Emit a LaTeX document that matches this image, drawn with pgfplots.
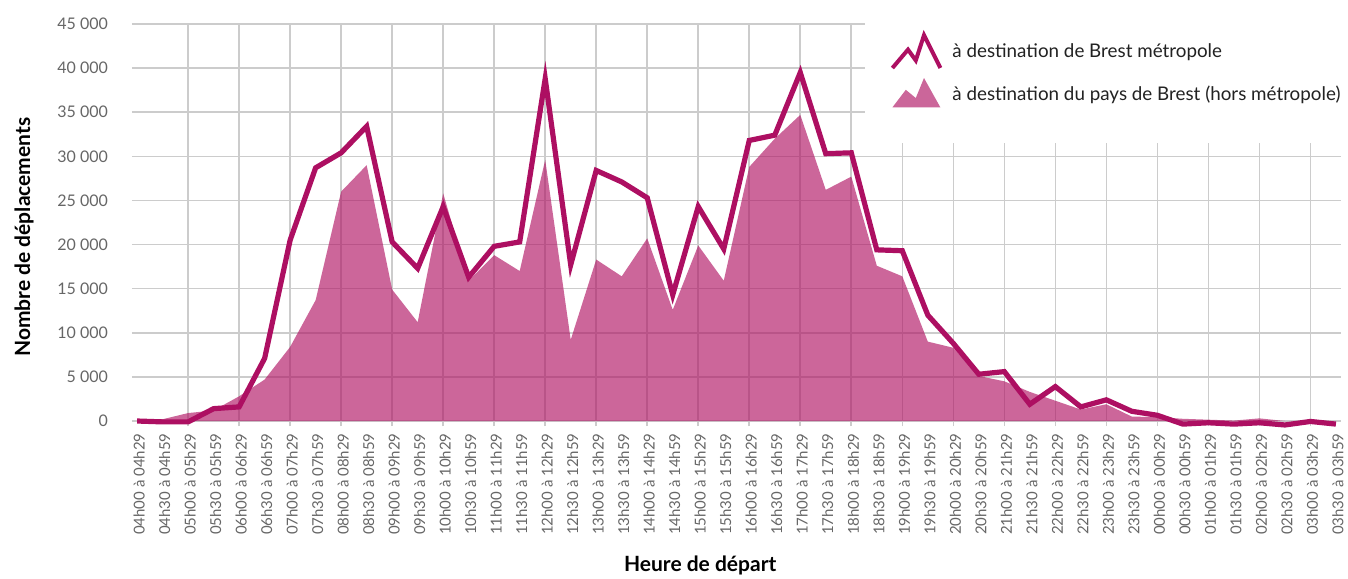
\documentclass[border=0pt]{standalone}
\usepackage{fontspec}
\setmainfont{Lato}
\usepackage{pgfplots}
\pgfplotsset{compat=1.18}
\definecolor{linec}{HTML}{AD0F62}
\definecolor{areac}{HTML}{B01464}
\definecolor{gridc}{HTML}{CCCCCC}
\definecolor{tickc}{HTML}{666666}
\definecolor{legc}{HTML}{222222}

\pgfplotstableread{
x y
0 0
1 -100
2 -100
3 1400
4 1600
5 7100
6 20500
7 28700
8 30400
9 33400
10 20300
11 17300
12 24300
13 16300
14 19800
15 20300
16 38800
17 17700
18 28400
19 27100
20 25300
21 14300
22 24300
23 19500
24 31800
25 32400
26 39500
27 30300
28 30400
29 19400
30 19300
31 12000
32 8800
33 5300
34 5600
35 1900
36 3900
37 1600
38 2400
39 1100
40 650
41 -350
42 -200
43 -350
44 -200
45 -450
46 -50
47 -350
}\metro

\pgfplotstableread{
x y
0 200
1 200
2 900
3 1200
4 2800
5 4700
6 8400
7 13700
8 26000
9 29000
10 14900
11 11200
12 25800
13 15900
14 18800
15 17000
16 29600
17 9200
18 18300
19 16400
20 20700
21 12600
22 19900
23 15900
24 28800
25 32000
26 34700
27 26200
28 27700
29 17600
30 16400
31 9000
32 8300
33 5100
34 4500
35 3300
36 2300
37 1300
38 1900
39 500
40 450
41 250
42 150
43 50
44 300
45 0
46 0
47 0
}\pays

\begin{document}
\begin{tikzpicture}
\begin{axis}[
  at={(0,0)}, anchor=south west,
  scale only axis, width=604.5pt, height=201.15pt,
  xmin=-0.2, xmax=47.2, ymin=-600, ymax=45000,
  clip=false,
  scaled y ticks=false,
  axis line style={draw=none},
  tick style={draw=none},
  major tick length=0pt,
  xtick={0,...,47},
  xticklabels={04h00 à 04h29,04h30 à 04h59,05h00 à 05h29,05h30 à 05h59,06h00 à 06h29,06h30 à 06h59,07h00 à 07h29,07h30 à 07h59,08h00 à 08h29,08h30 à 08h59,09h00 à 09h29,09h30 à 09h59,10h00 à 10h29,10h30 à 10h59,11h00 à 11h29,11h30 à 11h59,12h00 à 12h29,12h30 à 12h59,13h00 à 13h29,13h30 à 13h59,14h00 à 14h29,14h30 à 14h59,15h00 à 15h29,15h30 à 15h59,16h00 à 16h29,16h30 à 16h59,17h00 à 17h29,17h30 à 17h59,18h00 à 18h29,18h30 à 18h59,19h00 à 19h29,19h30 à 19h59,20h00 à 20h29,20h30 à 20h59,21h00 à 21h29,21h30 à 21h59,22h00 à 22h29,22h30 à 22h59,23h00 à 23h29,23h30 à 23h59,00h00 à 00h29,00h30 à 00h59,01h00 à 01h29,01h30 à 01h59,02h00 à 02h29,02h30 à 02h59,03h00 à 03h29,03h30 à 03h59},
  xticklabel style={rotate=90, anchor=east, font=\fontsize{7.5}{9}\selectfont, text=tickc, yshift=-1pt},
  ytick={0,5000,...,45000},
  yticklabels={0,5~000,10~000,15~000,20~000,25~000,30~000,35~000,40~000,45~000},
  yticklabel style={font=\fontsize{8}{10}\selectfont, text=tickc, xshift=-8.5pt},
  ymajorgrids,
  grid style={gridc, line width=0.8pt},
  extra x ticks={2,4,...,46},
  extra x tick labels={},
  extra x tick style={grid=major, major tick length=0pt},
  ylabel={Nombre de déplacements},
  ylabel style={at={(axis description cs:-0.0893,0.47)}, anchor=center, font=\fontsize{10.5}{12}\selectfont\bfseries},
  xlabel={Heure de départ},
  xlabel style={at={(axis description cs:0.47,-0.347)}, anchor=center, font=\fontsize{10.5}{12}\selectfont\bfseries},
  legend style={at={(rel axis cs:0.622,0.988)}, anchor=north west, draw=none, fill=none,
    font=\fontsize{9.4}{11}\selectfont, text=legc, row sep=4pt, column sep=3pt,
    nodes={inner sep=2pt}},
  legend cell align=left,
  reverse legend,
]
\fill[white] (rel axis cs:0.6063,0.704) rectangle (rel axis cs:1.02,1.03);
\addplot[draw=none, fill=areac, fill opacity=0.65,
  legend image code/.code={\fill[areac, fill opacity=0.65] (0pt,-6.5pt) -- (6.7pt,2.3pt) -- (11.7pt,-1.8pt) -- (15.8pt,8.2pt) -- (24pt,-6.5pt) -- cycle;}]
  table[x=x,y=y] {\pays} \closedcycle;
\addlegendentry{à destination du pays de Brest (hors métropole)}
\addplot[linec, line width=2.6pt, line join=miter, mark=none,
  legend image code/.code={\draw[linec, line width=2pt, line join=miter] (0pt,-8pt) -- (7.8pt,1.2pt) -- (11.7pt,-4.2pt) -- (15.8pt,8.4pt) -- (24pt,-8pt);}]
  table[x=x,y=y] {\metro};
\addlegendentry{à destination de Brest métropole}
\end{axis}
\pgfresetboundingbox
\path[use as bounding box] (-66pt,-75.85pt) rectangle (608pt,213.15pt);
\end{tikzpicture}
\end{document}
